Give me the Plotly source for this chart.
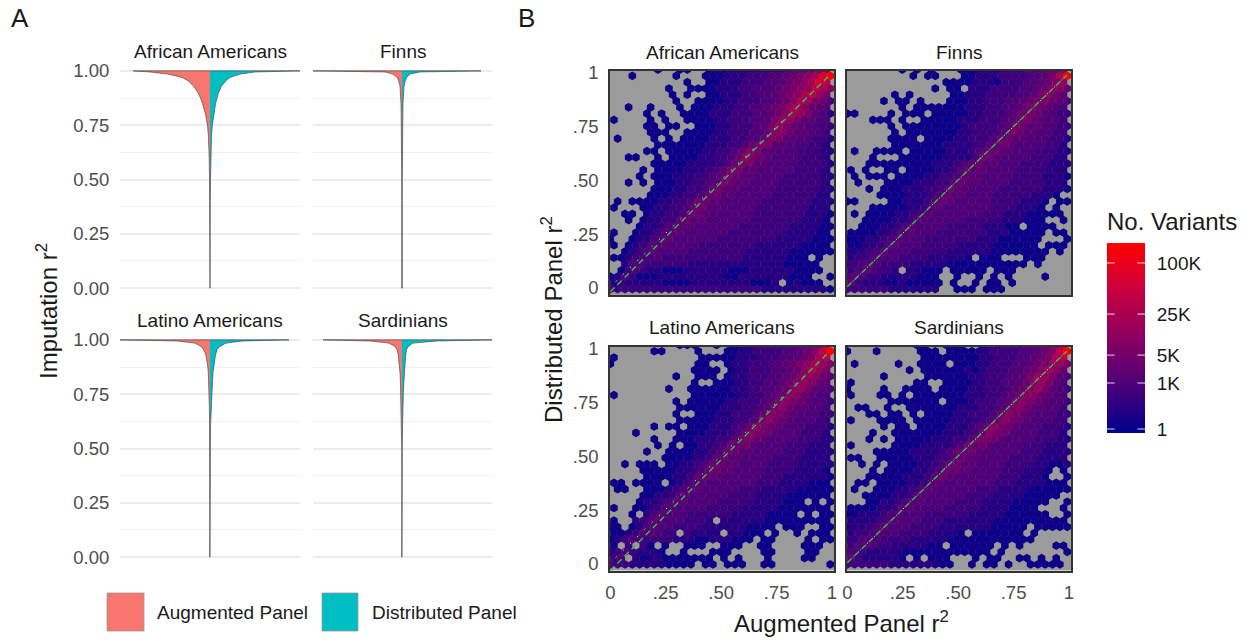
import numpy as np
import plotly.graph_objects as go

W, H = 1248, 640
FONT = "Liberation Sans"
AUG = "#F8766D"
DIS = "#00BFC4"

PANELS = ["African Americans", "Finns", "Latino Americans", "Sardinians"]

# ---- Panel A: half-widths of the mirrored density at each r2
R2 = [1, .995, .985, .97, .955, .93, .90, .875, .85, .80, .75, .70, .65, .60, .50, .40, .20, 0]
AA_AUG = [77, 60, 42, 28, 22, 16.5, 12, 9.5, 7.5, 4.5, 2.5, 1.6, 1.1, .8, .5, .3, .25, .25]
AA_DIS = [90, 45, 30, 20, 16, 11.5, 8.5, 7, 5.5, 4, 2.3, 1.5, 1.1, .8, .5, .3, .25, .25]
FI_AUG = [89, 17, 9, 4.7, 3.3, 2, 1.4, 1.2, 1, .8, .6, .5, .4, .35, .3, .25, .25, .25]
FI_DIS = [79, 18, 8, 4.7, 3.3, 2, 1.4, 1.2, 1, .8, .6, .5, .4, .35, .3, .25, .25, .25]
LA_AUG = [90, 33, 15, 9, 6.5, 4, 2.8, 2.2, 1.7, 1.2, .9, .7, .5, .4, .3, .25, .25, .25]
LA_DIS = [79, 33, 16, 10, 7, 5.5, 4.3, 3.6, 3, 2.4, 1.8, 1.2, .8, .5, .4, .3, .25, .25]
SA_AUG = [79, 32, 13, 7, 5, 3.7, 2.9, 2.5, 2, 1.5, 1.2, .9, .7, .5, .3, .25, .25, .25]
SA_DIS = [90, 35, 11, 6.3, 4.5, 3.7, 3.1, 2.7, 2.3, 1.8, 1.3, .9, .7, .5, .3, .25, .25, .25]
Y_TICKS_A = [0, .25, .5, .75, 1]
Y_LABELS_A = ["0.00", "0.25", "0.50", "0.75", "1.00"]

# ---- Panel B: hexbin rows, top row first.
# '.' = empty bin, 0..9,a,b,c = colour level from navy to red.
AA_HEX = [
"......0..00..00011112222334568",
"...0.....0...000111222334" "5679bc",
"..........0..001112223345679ba",
"........0..00001112233345678a97",
"........0.0..00111223345679a86",
".........0..0000112223345798653",
"..0..0...0.0001112233456897543",
".....0.0..000011122233457986431",
"0....0.0..00001122233468864433",
".....00.00..0001122234686543322",
".....000..00001122233577544332",
".0....0.0.000011122335764433221",
"......000000011122357644333221",
".....00.00000112235764433322211",
"..00..0.0000112235765433332221",
"......0000011112356644333322221",
"....0.000011123466443333322221",
"....0.0001112234654433332222211",
"..0.0.000112234654433332222221",
"......0001122355443333322222211",
".....0001122355443333322222211",
".0.0000112235544333332222222111",
"0...00112235544333332222222111",
"..00.01122355433333322222221110",
"..0.01122454433333322222221110",
"....011234443333332222222111100",
"0..011244433333322222222111100",
"0..0113443333332222222211111000",
"0.0123443333222222221111110000",
"..01234333322222222111111000000",
"001233322222222222111111000.0.",
"..1332222221111111111111000" "00..",
".0232110001111110001111110000.",
"0132000111111111001111111000..0",
"12111110000111111110001.01000.",
"3222222222222222222221111111110",
]
FI_HEX = [
".......0.0.0...000111222333457",
".........0.00...00111222233469c",
".............00001110222334578",
"............0.00.11122223345775",
"......0.0.....0011122223346754",
".....0.00.0...00011222334566543",
".......0.000000011122334565433",
"00....0.000.0000011222345654322",
"...000.0..00000111222345654332",
"......0.00000000122223465443322",
"......0.0000000112223465443322",
"......0000.00001122235544333221",
"......000000011112245543333221",
".0..0000.0000011123554433322211",
"...0...00000011113554333322211",
"...0000000001112345443332222111",
"0.0..00.0000112354433332222111",
".0.000.000011223544333322221110",
".0...0000111224544333322222111",
"...0.00011122354433332222221110",
"....0000111235443333222221110",
"00....0011124543333322221110.00",
"...000001124433333332221110.0.",
".0.00001123433333332221110" "0000.",
"..0000112343333322222111000..0",
"..0001123433332222211100.0000.",
"00001124433322222" "2211100000.00",
"000112343332222222111000000...0",
"00112343332222211" "111000000.000",
"11123433322222111" "11100000000.0.",
"12234332222111110" ".000...000...",
"22343222211111000" "00000000.0....",
"2343221.11000.000" "00.000.......",
"3432211111000..0." ".0.0.0....0...",
"4211100100000.0.." "0.00.0.......",
"3222221111111..000.000.........",
]
LA_HEX = [
".........000..0.0" "011222233457a",
"......00....0...0" "011222233457ac",
"0...........00000" "111222334569a",
"0...........00..0" "11222334567986",
"...........0000.0" "1122233457986",
".........0..000.0" "11222334578754",
"...........0..000" "1122334578654",
"........0..000000" "11223345786433",
"0..........000000" "1122345775433",
".........0.000001" "12223467654332",
".........00000011" "1223467544332",
".........0..00011" "22235765433322",
".........00000111" "2235765433322",
"......0.00.000111" "23576543332221",
"...0.....00001112" "3576543332221",
"......0..00011122" "46654333322211",
"......0.0.0011235" "5543333222111",
".....0..000011235" "54433332221111",
".......0000112454" "4333322221111",
"..0.000.001123554" "43333222211111",
"....0000011235544" "3333222211110",
".....000011245443" "33332221111110",
"00.0000.012443333" "3332221111000",
".00..000123443333" "32221111100000",
"....0011244333332" "2221111000000",
"....0112344333322" "2221111000.0.0",
"0..00123433332222" "2111110000000",
"...0.134333222222" "111110000.0.00",
"0..12343332221.11" "1111000000000",
"00.01343322221111" "110000.000..00",
"001234322.21111.1" "1000.0..0.000",
"01233222211100111" "000.00....0.00",
"0.2.20.0..000..00" "0..00....000.",
"12321110..0...000" "....00....00..",
"23.10110000000.0." "0...0....00..",
"322111110000.00.000..00.......0",
]
SA_HEX = [
".........00..000." ".01122233457a",
"0...0.....000.000" "011222233457ac",
"..........0000000" "011222334569a",
".0.....0..0000.00" "01122233456886",
"........0.0000001" "0122233457875",
".....0.....000000" "11222334688643",
"0........00..0000" "1122334578643",
"0....0..0000.0000" "11222345786432",
"0...00.0.00000001" "1122345775433",
"......0000000.000" "12223467654332",
".00..0..000000011" "1223467544332",
"...00.00.0.000011" "22235765433322",
"0...0000.00000111" "2235765433322",
".....0.00.0000111" "23576543332221",
"...0..00000001112" "3576543332221",
"...0.0.0000011122" "46654333322211",
"0.....00001111235" "5543333222111",
"....0000011112355" "54433332221111",
"00..0000011122454" "4333322221111",
"..0.0.00001123554" "43333222211001",
"...0.000011235544" "33332221110.0",
"...00000111245443" "33332221110..0",
".00.0000112443333" "3332221111000",
".0..0001123443333" "32221111000000",
"..000011244333332" "222111100000.",
"...00112344333322" "22111100000..0",
"00001124433332222" "211110000...0",
"00111234333222222" "11111000000..0",
"11112343332221111" "1110000000000",
"11123433322221111" "11100000.00000",
"1223433222211110." "0000000.0....",
"22343222211111000" "000000000.....",
"2343221111100.000" "000.0.0....00",
"33211111000000000" "000.0........0",
"42111110.0.000..." "0.00..00.0.0.",
"3222221111111" "00..0.00.0..00000.",
]
LEVELS = "0123456789abc"
LEVEL_COLOR = [.04, .13, .2, .26, .31, .37, .43, .49, .55, .62, .7, .83, 1]
HEX_PANELS = [AA_HEX, FI_HEX, LA_HEX, SA_HEX]

X_TICKS_B = [0, .25, .5, .75, 1]
X_LABELS_B = ["0", ".25", ".50", ".75", "1"]
LEGEND_LABELS = ["1", "1K", "5K", "25K", "100K"]
LEGEND_POS = [.021, .263, .41, .626, .895]
COLORSCALE = [[0, "#00008b"], [.25, "#4b0079"], [.5, "#8b0060"], [.75, "#c90040"], [1, "#ff0000"]]


def px(x):
    return x / W


def py(y):
    return 1 - y / H


fig = go.Figure()
layout = dict(
    width=W, height=H, margin=dict(l=0, r=0, t=0, b=0, autoexpand=False), autosize=False,
    paper_bgcolor="white", plot_bgcolor="rgba(0,0,0,0)", showlegend=False,
    font=dict(family=FONT, color="#4d4d4d"),
)
shapes, annots = [], []


def text(x, y, s, size, color="#1a1a1a", anchor="center", angle=0):
    annots.append(dict(x=px(x), y=py(y), xref="paper", yref="paper", text=s, showarrow=False,
                       font=dict(family=FONT, size=size, color=color), xanchor=anchor,
                       yanchor="middle", textangle=angle))


# ---- Panel A
A_BOX = [(120, 300, 60, 299), (313, 492, 60, 299), (120, 300, 329, 568), (313, 492, 329, 568)]
A_CENTER = [210, 402, 210, 402]
A_DATA = [(AA_AUG, AA_DIS), (FI_AUG, FI_DIS), (LA_AUG, LA_DIS), (SA_AUG, SA_DIS)]
for i, (x0, x1, y0, y1) in enumerate(A_BOX):
    n = i + 1
    sfx = "" if n == 1 else str(n)
    layout["xaxis" + sfx] = dict(domain=[px(x0), px(x1)], range=[x0 - A_CENTER[i], x1 - A_CENTER[i]],
                                 visible=False, anchor="y" + sfx, automargin=False)
    layout["yaxis" + sfx] = dict(
        domain=[py(y1), py(y0)], range=[-.05, 1.05], anchor="x" + sfx, automargin=False,
        tickvals=Y_TICKS_A, ticktext=Y_LABELS_A, showticklabels=i % 2 == 0,
        ticks="outside" if i % 2 == 0 else "", ticklen=6, tickcolor="rgba(0,0,0,0)",
        tickfont=dict(size=18.5, color="#4d4d4d", family=FONT),
        showgrid=True, gridcolor="#ececec", gridwidth=1.8, zeroline=False, showline=False,
        minor=dict(tickvals=[.125, .375, .625, .875], showgrid=True, gridcolor="#f0f0f0", gridwidth=1, ticks=""),
    )
    left, right = A_DATA[i]
    for vals, col, sign in ((left, AUG, -1), (right, DIS, 1)):
        xs = [0] + [sign * v for v in vals] + [0]
        ys = [1] + R2 + [0]
        fig.add_trace(go.Scatter(x=xs, y=ys, mode="lines", fill="toself", fillcolor=col,
                                 line=dict(color="#4a4a4a", width=.7), hoverinfo="skip",
                                 xaxis="x" + sfx, yaxis="y" + sfx))
    text((x0 + x1) / 2, y0 - 9, PANELS[i], 19)

# ---- Panel B
B_BOX = [(610, 834, 71, 295), (847, 1071, 71, 295), (610, 834, 346.5, 570.5), (847, 1071, 346.5, 570.5)]
B_ZERO_Y = [288, 288, 564, 564]
B_ROW0_Y = [69.67, 69.67, 345, 345]
UNIT_X, UNIT_Y = 221.7, 215.0
COL_STEP, ROW_STEP = 7.33, 6.27
GREEN_START = [-.017, .006, -.03, .006]
for i, (x0, x1, y0, y1) in enumerate(B_BOX):
    n = i + 5
    sx, sy = "x%d" % n, "y%d" % n
    zero_x = x0 + .3
    zy = B_ZERO_Y[i]
    rx = [(x0 - zero_x) / UNIT_X, (x1 - zero_x) / UNIT_X]
    ry = [(zy - y1) / UNIT_Y, (zy - y0) / UNIT_Y]
    layout["xaxis%d" % n] = dict(
        domain=[px(x0), px(x1)], range=rx, anchor=sy, tickvals=X_TICKS_B, ticktext=X_LABELS_B, automargin=False,
        showticklabels=i >= 2, ticks="outside" if i >= 2 else "", ticklen=4, tickcolor="rgba(0,0,0,0)",
        tickfont=dict(size=18.5, color="#4d4d4d", family=FONT), showgrid=False, zeroline=False,
        showline=True, mirror=True, linecolor="#333333", linewidth=1.6)
    layout["yaxis%d" % n] = dict(
        domain=[py(y1), py(y0)], range=ry, anchor=sx, tickvals=X_TICKS_B, ticktext=X_LABELS_B, automargin=False,
        showticklabels=i % 2 == 0, ticks="outside" if i % 2 == 0 else "", ticklen=6, tickcolor="rgba(0,0,0,0)",
        tickfont=dict(size=18.5, color="#4d4d4d", family=FONT), showgrid=False, zeroline=False,
        showline=True, mirror=True, linecolor="#333333", linewidth=1.6)
    shapes.append(dict(type="rect", xref=sx + " domain", yref=sy + " domain", x0=0, x1=1, y0=0, y1=1,
                       fillcolor="#9b9b9b", line=dict(width=0), layer="below"))
    xs, ys, cs = [], [], []
    for r, row in enumerate(HEX_PANELS[i]):
        off = .5 if r % 2 == 0 else 0
        for k, c in enumerate(row):
            if c == ".":
                continue
            xs.append((k + off) * COL_STEP / UNIT_X)
            ys.append((zy - (B_ROW0_Y[i] + r * ROW_STEP)) / UNIT_Y)
            cs.append(LEVEL_COLOR[LEVELS.index(c)])
    fig.add_trace(go.Scatter(x=xs, y=ys, mode="markers", xaxis=sx, yaxis=sy, hoverinfo="skip",
                             marker=dict(symbol="hexagon", size=8.7, color=cs, cmin=0, cmax=1,
                                         colorscale=COLORSCALE, line=dict(width=0))))
    fig.add_trace(go.Scatter(x=[0, .99], y=[.006, .99], mode="lines", xaxis=sx, yaxis=sy, hoverinfo="skip",
                             line=dict(color="white", width=.9, dash="0px,7.5px,1.2px,1.3px")))
    fig.add_trace(go.Scatter(x=[0, .99], y=[GREEN_START[i], .99], mode="lines", xaxis=sx, yaxis=sy,
                             hoverinfo="skip", line=dict(color="#2fc24a", width=1.4, dash="6px,4px")))
    text((x0 + x1) / 2, y0 - 19, PANELS[i], 19)

# ---- Colour legend (own axes)
CX0, CX1, CY0, CY1 = 1107, 1145, 243, 433
grad = np.linspace(0, 1, 190)
fig.add_trace(go.Heatmap(z=[[t] for t in grad], y=grad, x=[.5], zmin=0, zmax=1, colorscale=COLORSCALE,
                         showscale=False, hoverinfo="skip", xaxis="x9", yaxis="y9"))
layout["xaxis9"] = dict(domain=[px(CX0), px(CX1)], range=[0, 1], visible=False, anchor="y9", automargin=False)
layout["yaxis9"] = dict(domain=[py(CY1), py(CY0)], range=[0, 1], anchor="x9", side="right", automargin=False,
                        tickvals=LEGEND_POS, ticktext=LEGEND_LABELS, ticks="outside", ticklen=7,
                        tickcolor="rgba(0,0,0,0)", tickfont=dict(size=19, color="#1a1a1a", family=FONT),
                        showgrid=False, zeroline=False, showline=False)
for p in LEGEND_POS:
    for a, b in ((0, .2), (.8, 1)):
        shapes.append(dict(type="line", xref="x9", yref="y9", x0=a, x1=b, y0=p, y1=p,
                           line=dict(color="rgba(255,255,255,.85)", width=1)))
text(CX0 - 2, 221, "No. Variants", 24, anchor="left")

# ---- Swatches and other text
for x0, x1, col in ((107, 144, AUG), (322, 358, DIS)):
    shapes.append(dict(type="rect", xref="paper", yref="paper", x0=px(x0), x1=px(x1), y0=py(631), y1=py(593),
                       fillcolor=col, line=dict(color="#9a9a9a", width=.8)))
text(155, 612, "Augmented Panel", 19, anchor="left")
text(370, 612, "Distributed Panel", 19, anchor="left")
text(20, 18, "A", 26)
text(526, 18, "B", 26)
text(47, 311, "Imputation r<sup>2</sup>", 24, angle=-90)
text(552, 320, "Distributed Panel r<sup>2</sup>", 24, angle=-90)
text(841, 622, "Augmented Panel r<sup>2</sup>", 24)

layout["shapes"] = shapes
layout["annotations"] = annots
fig.update_layout(**layout)
fig.write_html("out.html", config=dict(displayModeBar=False),
               post_script="document.body.style.margin='0';document.body.style.padding='0';")
